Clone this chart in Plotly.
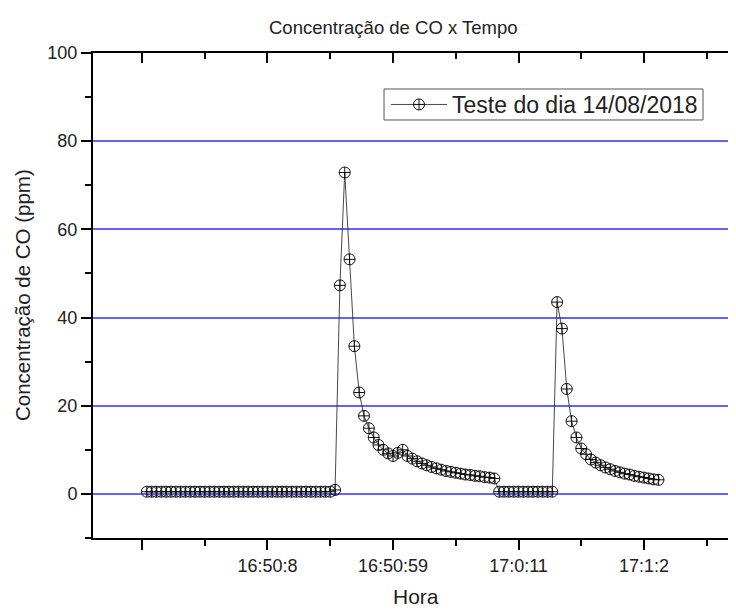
import plotly.graph_objects as go

# ---- data ----
flat1 = [0.5] * 39 + [0.9]
rise1 = [47.3, 72.9]
decay1 = [53.2, 33.5, 23.0, 17.7, 14.9, 12.8, 11.1, 10.0, 9.2, 8.6,
          9.3, 10.0, 8.6,
          8.0, 7.4, 6.9, 6.5, 6.1, 5.8, 5.5, 5.2, 5.0, 4.8, 4.6, 4.4,
          4.3, 4.1, 4.0, 3.8, 3.7, 3.5]
flat2 = [0.5] * 12
peak2 = [43.5]
decay2 = [37.5, 23.8, 16.5, 12.8, 10.3, 9.0, 7.8,
          7.1, 6.5, 6.0, 5.6, 5.2, 4.9, 4.6, 4.4, 4.1, 3.9, 3.7, 3.5, 3.3, 3.2]

co_ppm = flat1 + rise1 + decay1 + flat2 + peak2 + decay2
sample = list(range(1, len(co_ppm) + 1))

tick_index = [0, 26, 52, 78, 104]
tick_labels = ["", "16:50:8", "16:50:59", "17:0:11", "17:1:2"]
minor_index = [13, 39, 65, 91, 117]

FONT = "Liberation Sans, Arial, sans-serif"
TXT = "#222222"
GRID = "rgb(100,100,240)"

fig = go.Figure()
fig.add_trace(go.Scatter(
    x=sample, y=co_ppm, mode="lines+markers",
    name="Teste do dia 14/08/2018",
    line=dict(color="#333333", width=0.9),
    marker=dict(symbol="circle-cross-open", size=11,
                color="#111111", line=dict(width=1, color="#111111")),
))
# invisible trace carrying the top (mirror) axis
fig.add_trace(go.Scatter(
    x=sample, y=co_ppm, xaxis="x2", mode="markers",
    marker=dict(opacity=0), showlegend=False, hoverinfo="skip",
))

xr = [-10.15, 123.06]
fig.update_layout(
    template="none",
    width=728, height=602,
    margin=dict(l=85, r=0, t=45, b=72),
    paper_bgcolor="white", plot_bgcolor="white",
    font=dict(family=FONT, color=TXT, size=18),
    showlegend=True,
    legend=dict(x=0.4557, y=0.8938, xanchor="left", yanchor="middle",
                bgcolor="rgba(0,0,0,0)", borderwidth=0,
                font=dict(size=23, family=FONT, color=TXT),
                itemwidth=56, tracegroupgap=0),
    shapes=[dict(type="rect", xref="paper", yref="paper",
                 x0=0.4526, x1=0.9487, y0=0.8619, y1=0.9258,
                 line=dict(color="#555555", width=1), layer="below",
                 fillcolor="white")],
    xaxis=dict(range=xr, tickmode="array", tickvals=tick_index,
               ticktext=tick_labels, ticks="outside", ticklen=10, tickwidth=2,
               tickcolor="black", showline=True, linecolor="black", linewidth=2,
               showgrid=False, zeroline=False,
               tickfont=dict(size=18, family=FONT, color=TXT),
               minor=dict(tickmode="array", tickvals=minor_index,
                          ticks="outside", ticklen=6, tickwidth=2,
                          tickcolor="black", showgrid=False)),
    xaxis2=dict(range=xr, overlaying="x", side="top", tickmode="array",
                tickvals=tick_index, ticks="inside", ticklen=10, tickwidth=2,
                tickcolor="black", showticklabels=False, showline=True,
                linecolor="black", linewidth=2, showgrid=False, zeroline=False,
                minor=dict(tickmode="array", tickvals=minor_index,
                           ticks="inside", ticklen=6, tickwidth=2,
                           tickcolor="black", showgrid=False)),
    yaxis=dict(range=[-10, 100], tickmode="linear", tick0=0, dtick=20,
               ticks="outside", ticklen=10, tickwidth=2, tickcolor="black",
               showline=True, linecolor="black", linewidth=2,
               showgrid=True, gridcolor=GRID, gridwidth=2,
               zeroline=False,
               tickfont=dict(size=18, family=FONT, color=TXT),
               minor=dict(tick0=0, dtick=10, ticks="outside", ticklen=6,
                          tickwidth=2, tickcolor="black", showgrid=False)),
    annotations=[
        dict(text="Concentração de CO x Tempo", xref="paper", yref="paper",
             x=0.4666, y=1.0536, xanchor="center", yanchor="middle",
             showarrow=False, font=dict(size=18.5, family=FONT, color=TXT)),
        dict(text="Hora", xref="paper", yref="paper",
             x=0.502, y=-0.1196, xanchor="center", yanchor="middle",
             showarrow=False, font=dict(size=21, family=FONT, color=TXT)),
        dict(text="Concentração de CO (ppm)", xref="paper", yref="paper",
             x=-0.1104, y=0.501, xanchor="center", yanchor="middle",
             textangle=-90, showarrow=False,
             font=dict(size=20.5, family=FONT, color=TXT)),
    ],
)

fig.write_html("out.html")
